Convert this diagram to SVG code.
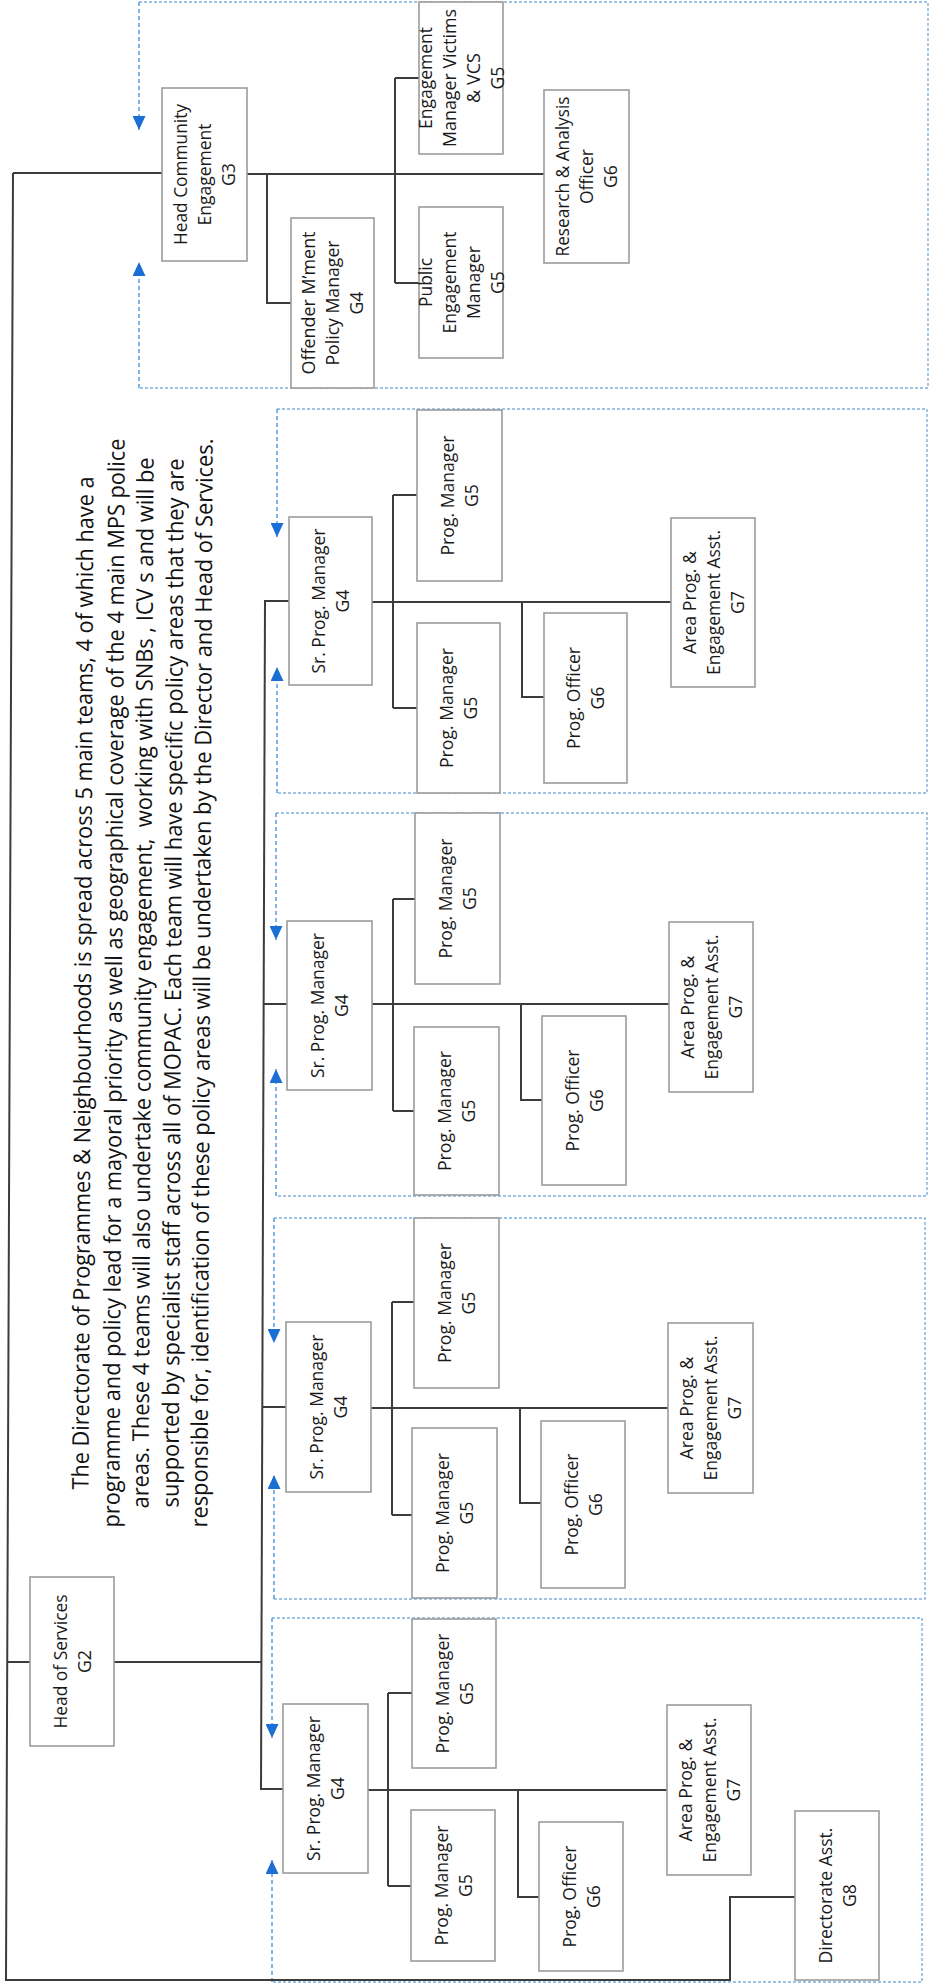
<svg xmlns="http://www.w3.org/2000/svg" width="930" height="1986" viewBox="0 0 930 1986">
  <style>
    .bg { fill: #ffffff; }
    .box { fill: #ffffff; stroke: #9c9c9c; stroke-width: 1.6; }
    .lbl { font-family: "Open Sans", "Liberation Sans", sans-serif; font-size: 18.5px; fill: #1a1a1a; text-anchor: middle; }
    .para { font-family: "Open Sans", "Liberation Sans", sans-serif; font-size: 23px; fill: #111111; text-anchor: middle; }
    .conn { fill: none; stroke: #3c3c3c; stroke-width: 2; }
    .team { fill: none; stroke: #7fb0dc; stroke-width: 1.4; stroke-dasharray: 3 2; }
    .rep { fill: none; stroke: #4a95e0; stroke-width: 1.4; stroke-dasharray: 4 3; marker-end: url(#tip); }
  </style>
  <defs>
    <marker id="tip" viewBox="0 0 14 13" markerUnits="userSpaceOnUse" markerWidth="14" markerHeight="13" refX="14" refY="6.5" orient="auto">
      <path d="M0,0 L14,6.5 L0,13 z" fill="#1b6fd4"/>
    </marker>
  </defs>

  <rect class="bg" x="0" y="0" width="930" height="1986"/>

  <!-- team containers (dashed) with reporting arrows on the left edge -->
  <g id="teams">
    <path class="team" d="M139,2 H928 V388 H139"/>
    <path class="rep" d="M139,2 V130"/>
    <path class="rep" d="M139,388 V262"/>

    <path class="team" d="M277,409 H927 V793 H277"/>
    <path class="rep" d="M277,409 V537"/>
    <path class="rep" d="M277,793 V667"/>

    <path class="team" d="M276,813 H927 V1196 H276"/>
    <path class="rep" d="M276,813 V940"/>
    <path class="rep" d="M276,1196 V1069"/>

    <path class="team" d="M274,1218 H925 V1599 H274"/>
    <path class="rep" d="M274,1218 V1343"/>
    <path class="rep" d="M274,1599 V1475"/>

    <path class="team" d="M272,1618 H922 V1982 H272"/>
    <path class="rep" d="M272,1618 V1738"/>
    <path class="rep" d="M272,1982 V1860"/>
  </g>

  <!-- reporting lines -->
  <g id="connectors">
    <path class="conn" d="M13,173 L6,1980 L730,1980 V1897 H795"/>
    <path class="conn" d="M13,173 H162"/>
    <path class="conn" d="M8,1662 H30 M114,1662 H262"/>
    <path class="conn" d="M265,600 L261,1790"/>
    <path class="conn" d="M265,601 H289 M264,1004 H287 M263,1407 H286 M261,1789 H283"/>

    <path class="conn" d="M247,174 H544 M267,174 V303 H291 M395,78 V283 M395,78 H419 M395,283 H419"/>

    <path class="conn" d="M372,602 H671 M393,495 V708 M393,495 H417 M393,708 H417 M522,602 V697 H544"/>
    <path class="conn" d="M372,1004 H669 M393,899 V1111 M393,899 H415 M393,1111 H414 M521,1004 V1100 H542"/>
    <path class="conn" d="M371,1408 H668 M392,1302 V1515 M392,1302 H414 M392,1515 H412 M520,1408 V1503 H541"/>
    <path class="conn" d="M368,1790 H667 M388,1693 V1886 M388,1693 H412 M388,1886 H411 M518,1790 V1897 H539"/>
  </g>

  <!-- introduction text -->
  <g id="intro">
    <text class="para" transform="translate(91,983) rotate(-89.72)" textLength="1013" lengthAdjust="spacingAndGlyphs">The Directorate of Programmes &amp; Neighbourhoods is spread across 5 main teams, 4 of which have a</text>
    <text class="para" transform="translate(122,983) rotate(-89.72)" textLength="1089" lengthAdjust="spacingAndGlyphs">programme and policy lead for a mayoral priority as well as geographical coverage of the 4 main MPS police</text>
    <text class="para" transform="translate(151,983) rotate(-89.72)" textLength="1051" lengthAdjust="spacingAndGlyphs" xml:space="preserve">areas. These 4 teams will also undertake community engagement,  working with SNBs , ICV s and will be</text>
    <text class="para" transform="translate(181,983) rotate(-89.72)" textLength="1049" lengthAdjust="spacingAndGlyphs">supported by specialist staff across all of MOPAC. Each team will have specific policy areas that they are</text>
    <text class="para" transform="translate(210,983) rotate(-89.72)" textLength="1089" lengthAdjust="spacingAndGlyphs">responsible for, identification of these policy areas will be undertaken by the Director and Head of Services.</text>
  </g>

  <!-- Head of Services -->
  <g id="head-of-services" transform="translate(72,1661.5)">
    <rect class="box" x="-42" y="-84.5" width="84" height="169"/>
    <text class="lbl" transform="rotate(-90)" y="-5.5" textLength="134" lengthAdjust="spacingAndGlyphs">Head of Services</text>
    <text class="lbl" transform="rotate(-90)" y="18.5" textLength="23" lengthAdjust="spacingAndGlyphs">G2</text>
  </g>

  <!-- Community engagement team -->
  <g id="head-community-engagement" transform="translate(204.5,174.5)">
    <rect class="box" x="-42.5" y="-86.5" width="85" height="173"/>
    <text class="lbl" transform="rotate(-90)" y="-17.5" textLength="141" lengthAdjust="spacingAndGlyphs">Head Community</text>
    <text class="lbl" transform="rotate(-90)" y="6.5" textLength="102" lengthAdjust="spacingAndGlyphs">Engagement</text>
    <text class="lbl" transform="rotate(-90)" y="30.5" textLength="23" lengthAdjust="spacingAndGlyphs">G3</text>
  </g>
  <g id="offender-policy-manager" transform="translate(332.5,303)">
    <rect class="box" x="-41.5" y="-85" width="83" height="170"/>
    <text class="lbl" transform="rotate(-90)" y="-17.5" textLength="143" lengthAdjust="spacingAndGlyphs">Offender M’ment</text>
    <text class="lbl" transform="rotate(-90)" y="6.5" textLength="125" lengthAdjust="spacingAndGlyphs">Policy Manager</text>
    <text class="lbl" transform="rotate(-90)" y="30.5" textLength="23" lengthAdjust="spacingAndGlyphs">G4</text>
  </g>
  <g id="engagement-manager-victims" transform="translate(461,78)">
    <rect class="box" x="-42" y="-76" width="84" height="152"/>
    <text class="lbl" transform="rotate(-90)" y="-29.5" textLength="102" lengthAdjust="spacingAndGlyphs">Engagement</text>
    <text class="lbl" transform="rotate(-90)" y="-5.5" textLength="138" lengthAdjust="spacingAndGlyphs">Manager Victims</text>
    <text class="lbl" transform="rotate(-90)" y="18.5" textLength="50" lengthAdjust="spacingAndGlyphs">&amp; VCS</text>
    <text class="lbl" transform="rotate(-90)" y="42.5" textLength="23" lengthAdjust="spacingAndGlyphs">G5</text>
  </g>
  <g id="public-engagement-manager" transform="translate(461,282.5)">
    <rect class="box" x="-42" y="-75.5" width="84" height="151"/>
    <text class="lbl" transform="rotate(-90)" y="-29.5" textLength="49" lengthAdjust="spacingAndGlyphs">Public</text>
    <text class="lbl" transform="rotate(-90)" y="-5.5" textLength="102" lengthAdjust="spacingAndGlyphs">Engagement</text>
    <text class="lbl" transform="rotate(-90)" y="18.5" textLength="73" lengthAdjust="spacingAndGlyphs">Manager</text>
    <text class="lbl" transform="rotate(-90)" y="42.5" textLength="23" lengthAdjust="spacingAndGlyphs">G5</text>
  </g>
  <g id="research-analysis-officer" transform="translate(586.5,176.5)">
    <rect class="box" x="-42.5" y="-86.5" width="85" height="173"/>
    <text class="lbl" transform="rotate(-90)" y="-17.5" textLength="160" lengthAdjust="spacingAndGlyphs">Research &amp; Analysis</text>
    <text class="lbl" transform="rotate(-90)" y="6.5" textLength="55" lengthAdjust="spacingAndGlyphs">Officer</text>
    <text class="lbl" transform="rotate(-90)" y="30.5" textLength="23" lengthAdjust="spacingAndGlyphs">G6</text>
  </g>

  <!-- Programme team 4 -->
  <g id="sr-prog-manager-4" transform="translate(330.5,601)">
    <rect class="box" x="-41.5" y="-84" width="83" height="168"/>
    <text class="lbl" transform="rotate(-90)" y="-5.5" textLength="145" lengthAdjust="spacingAndGlyphs">Sr. Prog. Manager</text>
    <text class="lbl" transform="rotate(-90)" y="18.5" textLength="23" lengthAdjust="spacingAndGlyphs">G4</text>
  </g>
  <g id="prog-manager-4a" transform="translate(459.5,495.5)">
    <rect class="box" x="-42.5" y="-85.5" width="85" height="171"/>
    <text class="lbl" transform="rotate(-90)" y="-5.5" textLength="120" lengthAdjust="spacingAndGlyphs">Prog. Manager</text>
    <text class="lbl" transform="rotate(-90)" y="18.5" textLength="23" lengthAdjust="spacingAndGlyphs">G5</text>
  </g>
  <g id="prog-manager-4b" transform="translate(458.5,708)">
    <rect class="box" x="-41.5" y="-85" width="83" height="170"/>
    <text class="lbl" transform="rotate(-90)" y="-5.5" textLength="120" lengthAdjust="spacingAndGlyphs">Prog. Manager</text>
    <text class="lbl" transform="rotate(-90)" y="18.5" textLength="23" lengthAdjust="spacingAndGlyphs">G5</text>
  </g>
  <g id="prog-officer-4" transform="translate(585.5,698)">
    <rect class="box" x="-41.5" y="-85" width="83" height="170"/>
    <text class="lbl" transform="rotate(-90)" y="-5.5" textLength="102" lengthAdjust="spacingAndGlyphs">Prog. Officer</text>
    <text class="lbl" transform="rotate(-90)" y="18.5" textLength="23" lengthAdjust="spacingAndGlyphs">G6</text>
  </g>
  <g id="area-assistant-4" transform="translate(713,602.5)">
    <rect class="box" x="-42" y="-84.5" width="84" height="169"/>
    <text class="lbl" transform="rotate(-90)" y="-17.5" textLength="103" lengthAdjust="spacingAndGlyphs">Area Prog. &amp;</text>
    <text class="lbl" transform="rotate(-90)" y="6.5" textLength="145" lengthAdjust="spacingAndGlyphs">Engagement Asst.</text>
    <text class="lbl" transform="rotate(-90)" y="30.5" textLength="23" lengthAdjust="spacingAndGlyphs">G7</text>
  </g>

  <!-- Programme team 3 -->
  <g id="sr-prog-manager-3" transform="translate(329.5,1005.5)">
    <rect class="box" x="-42.5" y="-84.5" width="85" height="169"/>
    <text class="lbl" transform="rotate(-90)" y="-5.5" textLength="145" lengthAdjust="spacingAndGlyphs">Sr. Prog. Manager</text>
    <text class="lbl" transform="rotate(-90)" y="18.5" textLength="23" lengthAdjust="spacingAndGlyphs">G4</text>
  </g>
  <g id="prog-manager-3a" transform="translate(457.5,898.5)">
    <rect class="box" x="-42.5" y="-85.5" width="85" height="171"/>
    <text class="lbl" transform="rotate(-90)" y="-5.5" textLength="120" lengthAdjust="spacingAndGlyphs">Prog. Manager</text>
    <text class="lbl" transform="rotate(-90)" y="18.5" textLength="23" lengthAdjust="spacingAndGlyphs">G5</text>
  </g>
  <g id="prog-manager-3b" transform="translate(456.5,1111)">
    <rect class="box" x="-42.5" y="-84" width="85" height="168"/>
    <text class="lbl" transform="rotate(-90)" y="-5.5" textLength="120" lengthAdjust="spacingAndGlyphs">Prog. Manager</text>
    <text class="lbl" transform="rotate(-90)" y="18.5" textLength="23" lengthAdjust="spacingAndGlyphs">G5</text>
  </g>
  <g id="prog-officer-3" transform="translate(584,1100.5)">
    <rect class="box" x="-42" y="-84.5" width="84" height="169"/>
    <text class="lbl" transform="rotate(-90)" y="-5.5" textLength="102" lengthAdjust="spacingAndGlyphs">Prog. Officer</text>
    <text class="lbl" transform="rotate(-90)" y="18.5" textLength="23" lengthAdjust="spacingAndGlyphs">G6</text>
  </g>
  <g id="area-assistant-3" transform="translate(711,1007)">
    <rect class="box" x="-42" y="-85" width="84" height="170"/>
    <text class="lbl" transform="rotate(-90)" y="-17.5" textLength="103" lengthAdjust="spacingAndGlyphs">Area Prog. &amp;</text>
    <text class="lbl" transform="rotate(-90)" y="6.5" textLength="145" lengthAdjust="spacingAndGlyphs">Engagement Asst.</text>
    <text class="lbl" transform="rotate(-90)" y="30.5" textLength="23" lengthAdjust="spacingAndGlyphs">G7</text>
  </g>

  <!-- Programme team 2 -->
  <g id="sr-prog-manager-2" transform="translate(328.5,1407)">
    <rect class="box" x="-42.5" y="-85" width="85" height="170"/>
    <text class="lbl" transform="rotate(-90)" y="-5.5" textLength="145" lengthAdjust="spacingAndGlyphs">Sr. Prog. Manager</text>
    <text class="lbl" transform="rotate(-90)" y="18.5" textLength="23" lengthAdjust="spacingAndGlyphs">G4</text>
  </g>
  <g id="prog-manager-2a" transform="translate(456.5,1303)">
    <rect class="box" x="-42.5" y="-85" width="85" height="170"/>
    <text class="lbl" transform="rotate(-90)" y="-5.5" textLength="120" lengthAdjust="spacingAndGlyphs">Prog. Manager</text>
    <text class="lbl" transform="rotate(-90)" y="18.5" textLength="23" lengthAdjust="spacingAndGlyphs">G5</text>
  </g>
  <g id="prog-manager-2b" transform="translate(454.5,1513)">
    <rect class="box" x="-42.5" y="-85" width="85" height="170"/>
    <text class="lbl" transform="rotate(-90)" y="-5.5" textLength="120" lengthAdjust="spacingAndGlyphs">Prog. Manager</text>
    <text class="lbl" transform="rotate(-90)" y="18.5" textLength="23" lengthAdjust="spacingAndGlyphs">G5</text>
  </g>
  <g id="prog-officer-2" transform="translate(583,1504.5)">
    <rect class="box" x="-42" y="-83.5" width="84" height="167"/>
    <text class="lbl" transform="rotate(-90)" y="-5.5" textLength="102" lengthAdjust="spacingAndGlyphs">Prog. Officer</text>
    <text class="lbl" transform="rotate(-90)" y="18.5" textLength="23" lengthAdjust="spacingAndGlyphs">G6</text>
  </g>
  <g id="area-assistant-2" transform="translate(710.5,1408)">
    <rect class="box" x="-42.5" y="-85" width="85" height="170"/>
    <text class="lbl" transform="rotate(-90)" y="-17.5" textLength="103" lengthAdjust="spacingAndGlyphs">Area Prog. &amp;</text>
    <text class="lbl" transform="rotate(-90)" y="6.5" textLength="145" lengthAdjust="spacingAndGlyphs">Engagement Asst.</text>
    <text class="lbl" transform="rotate(-90)" y="30.5" textLength="23" lengthAdjust="spacingAndGlyphs">G7</text>
  </g>

  <!-- Programme team 1 -->
  <g id="sr-prog-manager-1" transform="translate(325.5,1788.5)">
    <rect class="box" x="-42.5" y="-84.5" width="85" height="169"/>
    <text class="lbl" transform="rotate(-90)" y="-5.5" textLength="145" lengthAdjust="spacingAndGlyphs">Sr. Prog. Manager</text>
    <text class="lbl" transform="rotate(-90)" y="18.5" textLength="23" lengthAdjust="spacingAndGlyphs">G4</text>
  </g>
  <g id="prog-manager-1a" transform="translate(454,1693.5)">
    <rect class="box" x="-42" y="-74.5" width="84" height="149"/>
    <text class="lbl" transform="rotate(-90)" y="-5.5" textLength="120" lengthAdjust="spacingAndGlyphs">Prog. Manager</text>
    <text class="lbl" transform="rotate(-90)" y="18.5" textLength="23" lengthAdjust="spacingAndGlyphs">G5</text>
  </g>
  <g id="prog-manager-1b" transform="translate(453,1885.5)">
    <rect class="box" x="-42" y="-75.5" width="84" height="151"/>
    <text class="lbl" transform="rotate(-90)" y="-5.5" textLength="120" lengthAdjust="spacingAndGlyphs">Prog. Manager</text>
    <text class="lbl" transform="rotate(-90)" y="18.5" textLength="23" lengthAdjust="spacingAndGlyphs">G5</text>
  </g>
  <g id="prog-officer-1" transform="translate(581,1896.5)">
    <rect class="box" x="-42" y="-74.5" width="84" height="149"/>
    <text class="lbl" transform="rotate(-90)" y="-5.5" textLength="102" lengthAdjust="spacingAndGlyphs">Prog. Officer</text>
    <text class="lbl" transform="rotate(-90)" y="18.5" textLength="23" lengthAdjust="spacingAndGlyphs">G6</text>
  </g>
  <g id="area-assistant-1" transform="translate(709,1790)">
    <rect class="box" x="-42" y="-85" width="84" height="170"/>
    <text class="lbl" transform="rotate(-90)" y="-17.5" textLength="103" lengthAdjust="spacingAndGlyphs">Area Prog. &amp;</text>
    <text class="lbl" transform="rotate(-90)" y="6.5" textLength="145" lengthAdjust="spacingAndGlyphs">Engagement Asst.</text>
    <text class="lbl" transform="rotate(-90)" y="30.5" textLength="23" lengthAdjust="spacingAndGlyphs">G7</text>
  </g>
  <g id="directorate-assistant" transform="translate(837,1895.5)">
    <rect class="box" x="-42" y="-84.5" width="84" height="169"/>
    <text class="lbl" transform="rotate(-90)" y="-5.5" textLength="136" lengthAdjust="spacingAndGlyphs">Directorate Asst.</text>
    <text class="lbl" transform="rotate(-90)" y="18.5" textLength="23" lengthAdjust="spacingAndGlyphs">G8</text>
  </g>
</svg>
